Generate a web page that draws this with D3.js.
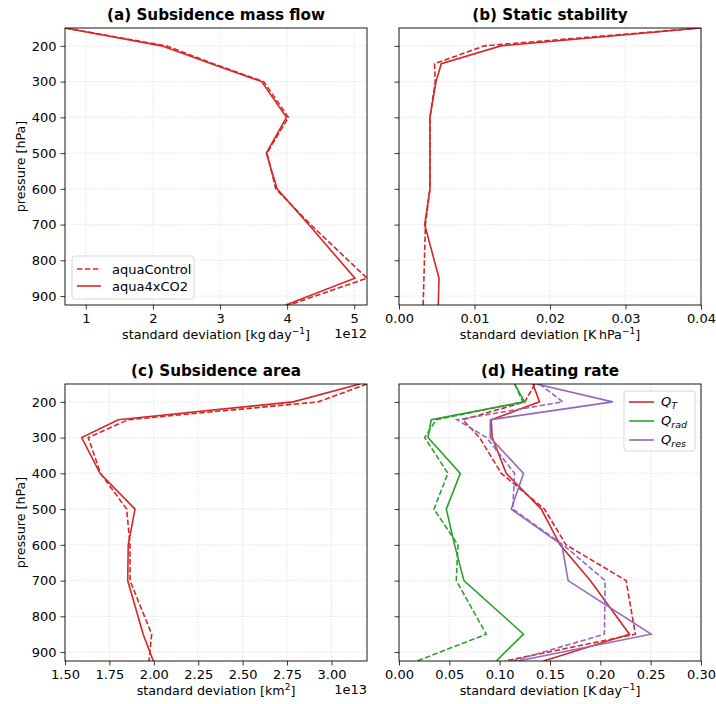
<!DOCTYPE html>
<html>
<head>
<meta charset="utf-8">
<script src="https://cdn.jsdelivr.net/npm/d3@7/dist/d3.min.js"></script>
<style>
  body { margin: 0; background: #fff; }
  svg { font-family: "DejaVu Sans", sans-serif; }
</style>
</head>
<body>
<div id="chart"></div>
<script>
// pressure levels shared by every profile (hPa)
const levels = [150, 200, 250, 300, 400, 500, 600, 700, 850, 925];
const pressureTicks = [200, 300, 400, 500, 600, 700, 800, 900];

// (a) subsidence mass flow, units of 1e12 kg/day
const massFlowCtl = [0.69, 2.20, 2.90, 3.65, 4.02, 3.70, 3.83, 4.35, 5.19, 4.03];
const massFlow4x  = [0.69, 2.13, 2.87, 3.62, 3.99, 3.69, 3.85, 4.32, 5.01, 3.98];

// (b) static stability, K/hPa
const stabilityCtl = [0.0398, 0.0113, 0.0047, 0.0048, 0.0041, 0.0041, 0.0041, 0.0035, 0.0033, 0.0032];
const stability4x  = [0.0400, 0.0135, 0.0056, 0.0049, 0.0041, 0.0041, 0.0041, 0.0034, 0.0053, 0.0052];

// (c) subsidence area, units of 1e13 km2
const areaCtl = [3.20, 2.925, 1.856, 1.631, 1.700, 1.847, 1.866, 1.866, 1.988, 1.973];
const area4x  = [3.16, 2.784, 1.800, 1.594, 1.697, 1.894, 1.856, 1.853, 1.940, 1.997];

// (d) heating rates, K/day
const qtCtl  = [0.135, 0.125, 0.0635, 0.080, 0.1016, 0.1445, 0.166, 0.2256, 0.2348, 0.105];
const qt4x   = [0.133, 0.1396, 0.0916, 0.0926, 0.1065, 0.1413, 0.160, 0.190, 0.2289, 0.1436];
const qradCtl = [0.115, 0.123, 0.037, 0.0255, 0.0486, 0.0347, 0.0586, 0.0569, 0.0867, 0.0179];
const qrad4x  = [0.1148, 0.1247, 0.032, 0.0288, 0.0609, 0.047, 0.0552, 0.0645, 0.1237, 0.0966];
const qresCtl = [0.1396, 0.1627, 0.0576, 0.087, 0.1148, 0.113, 0.163, 0.2048, 0.204, 0.113];
const qres4x  = [0.1363, 0.2123, 0.0907, 0.0906, 0.1237, 0.1115, 0.1618, 0.168, 0.2504, 0.118];

const red = "#d62728", green = "#2ca02c", purple = "#9467bd";
const dash = "5.5,2.4";
const tickFont = "13px", labelFont = "12.7px";

const W = 716, H = 704;
const svg = d3.select("#chart").append("svg").attr("width", W).attr("height", H);

const panels = [
  {
    title: "(a) Subsidence mass flow", left: 65, top: 28, yLabels: true,
    xDomain: [0.69, 5.19], xTicks: [1, 2, 3, 4, 5], fmt: d3.format("d"), offset: "1e12",
    xlabel: ["standard deviation [kg", "\u2009day", "\u22121", "]"],
    series: [
      { values: massFlowCtl, color: red, dashed: true },
      { values: massFlow4x, color: red, dashed: false }
    ],
    legend: "run"
  },
  {
    title: "(b) Static stability", left: 399, top: 28, yLabels: false,
    xDomain: [0, 0.04], xTicks: [0, 0.01, 0.02, 0.03, 0.04], fmt: d3.format(".2f"),
    xlabel: ["standard deviation [K", "\u2009hPa", "\u22121", "]"],
    series: [
      { values: stabilityCtl, color: red, dashed: true },
      { values: stability4x, color: red, dashed: false }
    ]
  },
  {
    title: "(c) Subsidence area", left: 65, top: 384, yLabels: true,
    xDomain: [1.5, 3.2], xTicks: [1.5, 1.75, 2.0, 2.25, 2.5, 2.75, 3.0], fmt: d3.format(".2f"), offset: "1e13",
    xlabel: ["standard deviation [km", "", "2", "]"],
    series: [
      { values: areaCtl, color: red, dashed: true },
      { values: area4x, color: red, dashed: false }
    ]
  },
  {
    title: "(d) Heating rate", left: 399, top: 384, yLabels: false,
    xDomain: [0, 0.3], xTicks: [0, 0.05, 0.1, 0.15, 0.2, 0.25, 0.3], fmt: d3.format(".2f"),
    xlabel: ["standard deviation [K", "\u2009day", "\u22121", "]"],
    series: [
      { values: qtCtl, color: red, dashed: true },
      { values: qt4x, color: red, dashed: false },
      { values: qradCtl, color: green, dashed: true },
      { values: qrad4x, color: green, dashed: false },
      { values: qresCtl, color: purple, dashed: true },
      { values: qres4x, color: purple, dashed: false }
    ],
    legend: "heating"
  }
];

const pw = 302, ph = 277;

panels.forEach(p => {
  const g = svg.append("g").attr("transform", `translate(${p.left},${p.top})`);
  const x = d3.scaleLinear().domain(p.xDomain).range([0, pw]);
  const y = d3.scaleLinear().domain([150, 925]).range([0, ph]);

  // dotted grid
  g.append("g").selectAll("line").data(p.xTicks).join("line")
    .attr("x1", d => x(d)).attr("x2", d => x(d)).attr("y1", 0).attr("y2", ph)
    .attr("stroke", "#d0d0d0").attr("stroke-width", 0.8).attr("stroke-dasharray", "1,1.7");
  g.append("g").selectAll("line").data(pressureTicks).join("line")
    .attr("x1", 0).attr("x2", pw).attr("y1", d => y(d)).attr("y2", d => y(d))
    .attr("stroke", "#d0d0d0").attr("stroke-width", 0.8).attr("stroke-dasharray", "1,1.7");

  // profiles
  const clipId = "clip" + p.title[1];
  g.append("clipPath").attr("id", clipId).append("rect").attr("width", pw).attr("height", ph);
  const line = d3.line().x(d => x(d[0])).y(d => y(d[1]));
  p.series.forEach(s => {
    g.append("path")
      .datum(s.values.map((v, i) => [v, levels[i]]))
      .attr("clip-path", `url(#${clipId})`)
      .attr("fill", "none")
      .attr("stroke", s.color)
      .attr("stroke-width", 1.6)
      .attr("stroke-dasharray", s.dashed ? dash : null)
      .attr("d", line);
  });

  // axes
  const xAxis = g.append("g").attr("transform", `translate(0,${ph})`)
    .call(d3.axisBottom(x).tickValues(p.xTicks).tickFormat(p.fmt).tickSize(4.5).tickPadding(4))
    .call(a => a.select(".domain").remove());
  const yAxis = g.append("g")
    .call(d3.axisLeft(y).tickValues(pressureTicks).tickSize(4.5).tickPadding(4)
      .tickFormat(p.yLabels ? d3.format("d") : () => ""))
    .call(a => a.select(".domain").remove());
  [xAxis, yAxis].forEach(a => {
    a.selectAll(".tick line").attr("stroke", "#000").attr("stroke-width", 0.8);
    a.selectAll(".tick text").attr("fill", "#000")
      .style("font-size", tickFont).style("font-family", "DejaVu Sans");
  });

  g.append("rect").attr("width", pw).attr("height", ph)
    .attr("fill", "none").attr("stroke", "#000").attr("stroke-width", 0.9);

  g.append("text").attr("x", pw / 2).attr("y", -8).attr("text-anchor", "middle")
    .style("font-size", "15.2px").style("font-weight", "bold").text(p.title);

  const xl = g.append("text").attr("x", pw / 2).attr("y", ph + 34).attr("text-anchor", "middle")
    .style("font-size", labelFont);
  xl.append("tspan").text(p.xlabel[0]);
  xl.append("tspan").text(p.xlabel[1]);
  xl.append("tspan").attr("dy", -5).style("font-size", "9px").text(p.xlabel[2]);
  xl.append("tspan").attr("dy", 5).text(p.xlabel[3]);

  if (p.offset) {
    g.append("text").attr("x", pw).attr("y", ph + 33).attr("text-anchor", "end")
      .style("font-size", tickFont).text(p.offset);
  }
  if (p.yLabels) {
    g.append("text").attr("transform", `translate(${-40},${ph / 2}) rotate(-90)`)
      .attr("text-anchor", "middle").style("font-size", labelFont).text("pressure [hPa]");
  }

  if (p.legend === "run") {
    const lg = g.append("g").attr("transform", `translate(7,${ph - 49})`);
    lg.append("rect").attr("width", 122).attr("height", 43).attr("rx", 3)
      .attr("fill", "#fff").attr("fill-opacity", 0.8).attr("stroke", "#ccc").attr("stroke-width", 0.8);
    [["aquaControl", true], ["aqua4xCO2", false]].forEach(([name, dashed], i) => {
      const yy = 13 + i * 17;
      lg.append("line").attr("x1", 5).attr("x2", 29).attr("y1", yy).attr("y2", yy)
        .attr("stroke", red).attr("stroke-width", 1.6).attr("stroke-dasharray", dashed ? dash : null);
      lg.append("text").attr("x", 40).attr("y", yy + 4.5).style("font-size", tickFont).text(name);
    });
  }
  if (p.legend === "heating") {
    const lg = g.append("g").attr("transform", `translate(${pw - 77},7)`);
    lg.append("rect").attr("width", 71).attr("height", 60).attr("rx", 3)
      .attr("fill", "#fff").attr("fill-opacity", 0.8).attr("stroke", "#ccc").attr("stroke-width", 0.8);
    [["T", red], ["rad", green], ["res", purple]].forEach(([sub, col], i) => {
      const yy = 11 + i * 19;
      lg.append("line").attr("x1", 5).attr("x2", 30).attr("y1", yy).attr("y2", yy)
        .attr("stroke", col).attr("stroke-width", 1.6);
      const t = lg.append("text").attr("x", 37).attr("y", yy + 4).style("font-size", tickFont)
        .style("font-style", "italic");
      t.append("tspan").text("Q");
      t.append("tspan").attr("dy", 3).style("font-size", "9.5px").text(sub);
    });
  }
});
</script>
</body>
</html>
